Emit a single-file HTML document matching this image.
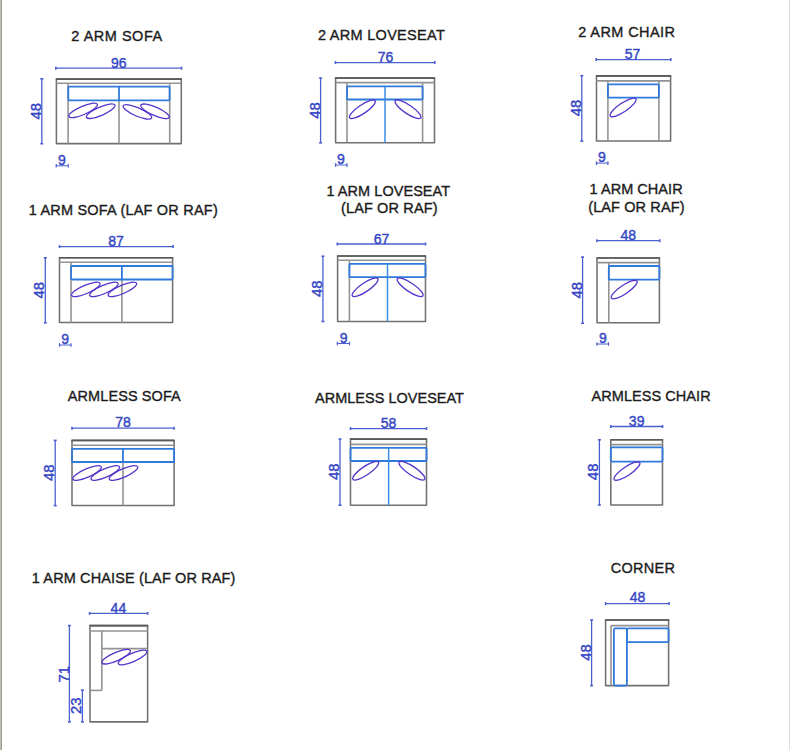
<!DOCTYPE html>
<html><head><meta charset="utf-8"><style>
html,body{margin:0;padding:0;background:#fff;}
body{width:790px;height:750px;overflow:hidden;position:relative;}
svg{position:absolute;left:0;top:0;font-family:"Liberation Sans",sans-serif;}
.lb{position:absolute;left:0;top:0;width:1px;height:750px;background:#c2beb5;}
.lb2{position:absolute;left:1px;top:0;width:1px;height:750px;background:#a09c94;}
.rb{position:absolute;left:789px;top:0;width:1px;height:750px;background:#e0ded9;}
</style></head><body>
<div class="lb"></div><div class="lb2"></div><div class="rb"></div>
<svg width="790" height="750" viewBox="0 0 790 750">
<text transform="translate(117.0 40.5) scale(1.0 1.07)" font-size="14.5" text-anchor="middle" letter-spacing="0.511" fill="#1c1c1c" stroke="#1c1c1c" stroke-width="0.35">2 ARM SOFA</text>
<line x1="55.8" y1="68.2" x2="181.6" y2="68.2" stroke="#4b5fd0" stroke-width="1.3" stroke-linejoin="round"/>
<line x1="55.8" y1="66.7" x2="55.8" y2="69.7" stroke="#4b5fd0" stroke-width="1.6" stroke-linejoin="round"/>
<line x1="181.6" y1="66.7" x2="181.6" y2="69.7" stroke="#4b5fd0" stroke-width="1.6" stroke-linejoin="round"/>
<text transform="translate(118.8 67.8) scale(0.97 1.04)" font-size="14.5" text-anchor="middle" fill="#3446c4" stroke="#3446c4" stroke-width="0.4">96</text>
<line x1="41.8" y1="78.8" x2="41.8" y2="143.7" stroke="#4b5fd0" stroke-width="1.3" stroke-linejoin="round"/>
<line x1="40.3" y1="78.8" x2="43.3" y2="78.8" stroke="#4b5fd0" stroke-width="1.6" stroke-linejoin="round"/>
<line x1="40.3" y1="143.7" x2="43.3" y2="143.7" stroke="#4b5fd0" stroke-width="1.6" stroke-linejoin="round"/>
<text transform="translate(40.7 111.3) rotate(-90) scale(1.03 1.07)" font-size="14.5" text-anchor="middle" fill="#3446c4" stroke="#3446c4" stroke-width="0.4">48</text>
<rect x="56.4" y="79.1" width="124.90" height="64.50" rx="0" fill="none" stroke="#707070" stroke-width="1.55" stroke-linejoin="round"/>
<line x1="56.4" y1="79.1" x2="181.3" y2="79.1" stroke="#5a5a5a" stroke-width="1.6" stroke-linecap="round"/>
<line x1="56.4" y1="83.3" x2="181.3" y2="83.3" stroke="#939393" stroke-width="1.6" stroke-linejoin="round"/>
<line x1="68.1" y1="83.3" x2="68.1" y2="143.6" stroke="#939393" stroke-width="1.6" stroke-linejoin="round"/>
<line x1="169.7" y1="83.3" x2="169.7" y2="143.6" stroke="#939393" stroke-width="1.6" stroke-linejoin="round"/>
<line x1="119" y1="100.4" x2="119" y2="143.6" stroke="#939393" stroke-width="1.6" stroke-linejoin="round"/>
<rect x="68.3" y="86.7" width="101.30" height="13.70" rx="1" fill="none" stroke="#2f7adc" stroke-width="1.8" stroke-linejoin="round"/>
<line x1="119" y1="86.7" x2="119" y2="100.4" stroke="#2f7adc" stroke-width="1.8" stroke-linejoin="round"/>
<ellipse cx="83.1" cy="110.4" rx="15.5" ry="4.2" transform="rotate(-23.5 83.1 110.4)" fill="none" stroke="#5634cc" stroke-width="1.3" stroke-linejoin="round"/>
<ellipse cx="100.7" cy="111.2" rx="15.5" ry="4.2" transform="rotate(-23.5 100.7 111.2)" fill="none" stroke="#5634cc" stroke-width="1.3" stroke-linejoin="round"/>
<ellipse cx="137.4" cy="111.9" rx="15.5" ry="4.2" transform="rotate(23.5 137.4 111.9)" fill="none" stroke="#5634cc" stroke-width="1.3" stroke-linejoin="round"/>
<ellipse cx="155.0" cy="111.3" rx="15.5" ry="4.2" transform="rotate(23.5 155.0 111.3)" fill="none" stroke="#5634cc" stroke-width="1.3" stroke-linejoin="round"/>
<text transform="translate(61.8 165.2) scale(0.97 1.04)" font-size="14.5" text-anchor="middle" fill="#3446c4" stroke="#3446c4" stroke-width="0.4">9</text>
<line x1="56.2" y1="165.8" x2="68.2" y2="165.8" stroke="#4b5fd0" stroke-width="1.0" stroke-linejoin="round"/>
<line x1="56.2" y1="164" x2="56.2" y2="167.5" stroke="#4b5fd0" stroke-width="1.2" stroke-linejoin="round"/>
<line x1="68.2" y1="164" x2="68.2" y2="167.5" stroke="#4b5fd0" stroke-width="1.2" stroke-linejoin="round"/>
<text transform="translate(381.5 40.0) scale(1.0 1.07)" font-size="14.5" text-anchor="middle" letter-spacing="0.300" fill="#1c1c1c" stroke="#1c1c1c" stroke-width="0.35">2 ARM LOVESEAT</text>
<line x1="335.4" y1="62.6" x2="434.8" y2="62.6" stroke="#4b5fd0" stroke-width="1.3" stroke-linejoin="round"/>
<line x1="335.4" y1="61.1" x2="335.4" y2="64.1" stroke="#4b5fd0" stroke-width="1.6" stroke-linejoin="round"/>
<line x1="434.8" y1="61.1" x2="434.8" y2="64.1" stroke="#4b5fd0" stroke-width="1.6" stroke-linejoin="round"/>
<text transform="translate(385.5 62.3) scale(0.97 1.04)" font-size="14.5" text-anchor="middle" fill="#3446c4" stroke="#3446c4" stroke-width="0.4">76</text>
<line x1="320.6" y1="78.1" x2="320.6" y2="142.8" stroke="#4b5fd0" stroke-width="1.3" stroke-linejoin="round"/>
<line x1="319.1" y1="78.1" x2="322.1" y2="78.1" stroke="#4b5fd0" stroke-width="1.6" stroke-linejoin="round"/>
<line x1="319.1" y1="142.8" x2="322.1" y2="142.8" stroke="#4b5fd0" stroke-width="1.6" stroke-linejoin="round"/>
<text transform="translate(319.59999999999997 110.5) rotate(-90) scale(1.03 1.07)" font-size="14.5" text-anchor="middle" fill="#3446c4" stroke="#3446c4" stroke-width="0.4">48</text>
<rect x="335.6" y="78.1" width="98.90" height="64.60" rx="0" fill="none" stroke="#707070" stroke-width="1.55" stroke-linejoin="round"/>
<line x1="335.6" y1="78.1" x2="434.5" y2="78.1" stroke="#5a5a5a" stroke-width="1.6" stroke-linecap="round"/>
<line x1="335.6" y1="82.6" x2="434.5" y2="82.6" stroke="#939393" stroke-width="1.6" stroke-linejoin="round"/>
<line x1="347" y1="82.6" x2="347" y2="142.7" stroke="#939393" stroke-width="1.6" stroke-linejoin="round"/>
<line x1="422.6" y1="82.6" x2="422.6" y2="142.7" stroke="#939393" stroke-width="1.6" stroke-linejoin="round"/>
<rect x="347" y="86.4" width="75.60" height="13.10" rx="1" fill="none" stroke="#2f7adc" stroke-width="1.8" stroke-linejoin="round"/>
<line x1="385" y1="86.4" x2="385" y2="142.7" stroke="#3a8ce6" stroke-width="1.5" stroke-linejoin="round"/>
<ellipse cx="362.4" cy="109.3" rx="15.4" ry="4.3" transform="rotate(-34 362.4 109.3)" fill="none" stroke="#5634cc" stroke-width="1.3" stroke-linejoin="round"/>
<ellipse cx="408" cy="109.3" rx="15.4" ry="4.3" transform="rotate(34 408 109.3)" fill="none" stroke="#5634cc" stroke-width="1.3" stroke-linejoin="round"/>
<text transform="translate(341 163.8) scale(0.97 1.04)" font-size="14.5" text-anchor="middle" fill="#3446c4" stroke="#3446c4" stroke-width="0.4">9</text>
<line x1="335.6" y1="165" x2="347" y2="165" stroke="#4b5fd0" stroke-width="1.0" stroke-linejoin="round"/>
<line x1="335.6" y1="163.2" x2="335.6" y2="166.8" stroke="#4b5fd0" stroke-width="1.3" stroke-linejoin="round"/>
<line x1="347" y1="163.2" x2="347" y2="166.8" stroke="#4b5fd0" stroke-width="1.3" stroke-linejoin="round"/>
<text transform="translate(626.8 37.3) scale(1.0 1.07)" font-size="14.5" text-anchor="middle" letter-spacing="0.410" fill="#1c1c1c" stroke="#1c1c1c" stroke-width="0.35">2 ARM CHAIR</text>
<line x1="596.2" y1="59.6" x2="670.8" y2="59.6" stroke="#4b5fd0" stroke-width="1.3" stroke-linejoin="round"/>
<line x1="596.2" y1="58.1" x2="596.2" y2="61.1" stroke="#4b5fd0" stroke-width="1.6" stroke-linejoin="round"/>
<line x1="670.8" y1="58.1" x2="670.8" y2="61.1" stroke="#4b5fd0" stroke-width="1.6" stroke-linejoin="round"/>
<text transform="translate(632.6 58.9) scale(0.97 1.04)" font-size="14.5" text-anchor="middle" fill="#3446c4" stroke="#3446c4" stroke-width="0.4">57</text>
<line x1="581.8" y1="75.7" x2="581.8" y2="141.1" stroke="#4b5fd0" stroke-width="1.3" stroke-linejoin="round"/>
<line x1="580.3" y1="75.7" x2="583.3" y2="75.7" stroke="#4b5fd0" stroke-width="1.6" stroke-linejoin="round"/>
<line x1="580.3" y1="141.1" x2="583.3" y2="141.1" stroke="#4b5fd0" stroke-width="1.6" stroke-linejoin="round"/>
<text transform="translate(580.8000000000001 108) rotate(-90) scale(1.03 1.07)" font-size="14.5" text-anchor="middle" fill="#3446c4" stroke="#3446c4" stroke-width="0.4">48</text>
<rect x="596.5" y="75.9" width="74.10" height="65.10" rx="0" fill="none" stroke="#707070" stroke-width="1.55" stroke-linejoin="round"/>
<line x1="596.5" y1="75.9" x2="670.6" y2="75.9" stroke="#5a5a5a" stroke-width="1.6" stroke-linecap="round"/>
<line x1="596.5" y1="80.9" x2="670.6" y2="80.9" stroke="#939393" stroke-width="1.6" stroke-linejoin="round"/>
<line x1="607.9" y1="80.9" x2="607.9" y2="141" stroke="#939393" stroke-width="1.6" stroke-linejoin="round"/>
<line x1="658.9" y1="80.9" x2="658.9" y2="141" stroke="#939393" stroke-width="1.6" stroke-linejoin="round"/>
<rect x="607.9" y="84.3" width="51.00" height="13.30" rx="1" fill="none" stroke="#2f7adc" stroke-width="1.8" stroke-linejoin="round"/>
<ellipse cx="623.1" cy="107.4" rx="15.4" ry="4.3" transform="rotate(-34 623.1 107.4)" fill="none" stroke="#5634cc" stroke-width="1.3" stroke-linejoin="round"/>
<text transform="translate(601.9 162.4) scale(0.97 1.04)" font-size="14.5" text-anchor="middle" fill="#3446c4" stroke="#3446c4" stroke-width="0.4">9</text>
<line x1="596.5" y1="163.1" x2="607.9" y2="163.1" stroke="#4b5fd0" stroke-width="1.0" stroke-linejoin="round"/>
<line x1="596.5" y1="161.3" x2="596.5" y2="164.9" stroke="#4b5fd0" stroke-width="1.3" stroke-linejoin="round"/>
<line x1="607.9" y1="161.3" x2="607.9" y2="164.9" stroke="#4b5fd0" stroke-width="1.3" stroke-linejoin="round"/>
<text transform="translate(123.30000000000001 214.5) scale(1.0 1.07)" font-size="14.5" text-anchor="middle" letter-spacing="0.214" fill="#1c1c1c" stroke="#1c1c1c" stroke-width="0.35">1 ARM SOFA (LAF OR RAF)</text>
<line x1="59.5" y1="246.6" x2="173.1" y2="246.6" stroke="#4b5fd0" stroke-width="1.3" stroke-linejoin="round"/>
<line x1="59.5" y1="245.1" x2="59.5" y2="248.1" stroke="#4b5fd0" stroke-width="1.6" stroke-linejoin="round"/>
<line x1="173.1" y1="245.1" x2="173.1" y2="248.1" stroke="#4b5fd0" stroke-width="1.6" stroke-linejoin="round"/>
<text transform="translate(116.1 245.8) scale(0.97 1.04)" font-size="14.5" text-anchor="middle" fill="#3446c4" stroke="#3446c4" stroke-width="0.4">87</text>
<line x1="45.3" y1="257.8" x2="45.3" y2="322.8" stroke="#4b5fd0" stroke-width="1.3" stroke-linejoin="round"/>
<line x1="43.8" y1="257.8" x2="46.8" y2="257.8" stroke="#4b5fd0" stroke-width="1.6" stroke-linejoin="round"/>
<line x1="43.8" y1="322.8" x2="46.8" y2="322.8" stroke="#4b5fd0" stroke-width="1.6" stroke-linejoin="round"/>
<text transform="translate(44.300000000000004 290.3) rotate(-90) scale(1.03 1.07)" font-size="14.5" text-anchor="middle" fill="#3446c4" stroke="#3446c4" stroke-width="0.4">48</text>
<rect x="59.5" y="257.8" width="113.10" height="64.80" rx="0" fill="none" stroke="#707070" stroke-width="1.55" stroke-linejoin="round"/>
<line x1="59.5" y1="257.8" x2="172.6" y2="257.8" stroke="#5a5a5a" stroke-width="1.6" stroke-linecap="round"/>
<line x1="59.5" y1="262.2" x2="172.6" y2="262.2" stroke="#939393" stroke-width="1.6" stroke-linejoin="round"/>
<line x1="71" y1="262.2" x2="71" y2="322.6" stroke="#939393" stroke-width="1.6" stroke-linejoin="round"/>
<line x1="121.9" y1="279.5" x2="121.9" y2="322.6" stroke="#939393" stroke-width="1.6" stroke-linejoin="round"/>
<rect x="71" y="266" width="101.60" height="13.50" rx="1" fill="none" stroke="#2f7adc" stroke-width="1.8" stroke-linejoin="round"/>
<line x1="121.9" y1="266" x2="121.9" y2="279.5" stroke="#2f7adc" stroke-width="1.8" stroke-linejoin="round"/>
<ellipse cx="85.8" cy="289.4" rx="15.5" ry="4.2" transform="rotate(-23.5 85.8 289.4)" fill="none" stroke="#5634cc" stroke-width="1.3" stroke-linejoin="round"/>
<ellipse cx="103.9" cy="289.4" rx="15.5" ry="4.2" transform="rotate(-23.5 103.9 289.4)" fill="none" stroke="#5634cc" stroke-width="1.3" stroke-linejoin="round"/>
<ellipse cx="122.4" cy="289.4" rx="15.5" ry="4.2" transform="rotate(-23.5 122.4 289.4)" fill="none" stroke="#5634cc" stroke-width="1.3" stroke-linejoin="round"/>
<text transform="translate(65.2 344) scale(0.97 1.04)" font-size="14.5" text-anchor="middle" fill="#3446c4" stroke="#3446c4" stroke-width="0.4">9</text>
<line x1="59.5" y1="345" x2="71" y2="345" stroke="#4b5fd0" stroke-width="1.0" stroke-linejoin="round"/>
<line x1="59.5" y1="343.2" x2="59.5" y2="346.8" stroke="#4b5fd0" stroke-width="1.2" stroke-linejoin="round"/>
<line x1="71" y1="343.2" x2="71" y2="346.8" stroke="#4b5fd0" stroke-width="1.2" stroke-linejoin="round"/>
<text transform="translate(388.29999999999995 195.5) scale(1.0 1.07)" font-size="14.5" text-anchor="middle" letter-spacing="0.054" fill="#1c1c1c" stroke="#1c1c1c" stroke-width="0.35">1 ARM LOVESEAT</text>
<text transform="translate(389.29999999999995 213.4) scale(1.0 1.07)" font-size="14.5" text-anchor="middle" letter-spacing="0.145" fill="#1c1c1c" stroke="#1c1c1c" stroke-width="0.35">(LAF OR RAF)</text>
<line x1="337.3" y1="244" x2="425.5" y2="244" stroke="#4b5fd0" stroke-width="1.3" stroke-linejoin="round"/>
<line x1="337.3" y1="242.5" x2="337.3" y2="245.5" stroke="#4b5fd0" stroke-width="1.6" stroke-linejoin="round"/>
<line x1="425.5" y1="242.5" x2="425.5" y2="245.5" stroke="#4b5fd0" stroke-width="1.6" stroke-linejoin="round"/>
<text transform="translate(381.45 243.7) scale(0.97 1.04)" font-size="14.5" text-anchor="middle" fill="#3446c4" stroke="#3446c4" stroke-width="0.4">67</text>
<line x1="322.9" y1="256.2" x2="322.9" y2="321.5" stroke="#4b5fd0" stroke-width="1.3" stroke-linejoin="round"/>
<line x1="321.4" y1="256.2" x2="324.4" y2="256.2" stroke="#4b5fd0" stroke-width="1.6" stroke-linejoin="round"/>
<line x1="321.4" y1="321.5" x2="324.4" y2="321.5" stroke="#4b5fd0" stroke-width="1.6" stroke-linejoin="round"/>
<text transform="translate(321.9 288.75) rotate(-90) scale(1.03 1.07)" font-size="14.5" text-anchor="middle" fill="#3446c4" stroke="#3446c4" stroke-width="0.4">48</text>
<rect x="337.6" y="256.0" width="87.90" height="65.50" rx="0" fill="none" stroke="#707070" stroke-width="1.55" stroke-linejoin="round"/>
<line x1="337.6" y1="256.0" x2="425.5" y2="256.0" stroke="#5a5a5a" stroke-width="1.6" stroke-linecap="round"/>
<line x1="337.6" y1="260.3" x2="425.5" y2="260.3" stroke="#939393" stroke-width="1.6" stroke-linejoin="round"/>
<line x1="349.4" y1="260.3" x2="349.4" y2="321.5" stroke="#939393" stroke-width="1.6" stroke-linejoin="round"/>
<rect x="349.4" y="263.9" width="76.10" height="13.30" rx="1" fill="none" stroke="#2f7adc" stroke-width="1.8" stroke-linejoin="round"/>
<line x1="387.5" y1="263.9" x2="387.5" y2="321.5" stroke="#3a8ce6" stroke-width="1.5" stroke-linejoin="round"/>
<ellipse cx="365.1" cy="287.3" rx="15.4" ry="4.3" transform="rotate(-34 365.1 287.3)" fill="none" stroke="#5634cc" stroke-width="1.3" stroke-linejoin="round"/>
<ellipse cx="410.1" cy="287.3" rx="15.4" ry="4.3" transform="rotate(34 410.1 287.3)" fill="none" stroke="#5634cc" stroke-width="1.3" stroke-linejoin="round"/>
<text transform="translate(343.75 342.5) scale(0.97 1.04)" font-size="14.5" text-anchor="middle" fill="#3446c4" stroke="#3446c4" stroke-width="0.4">9</text>
<line x1="337.3" y1="343.5" x2="349.5" y2="343.5" stroke="#4b5fd0" stroke-width="1.0" stroke-linejoin="round"/>
<line x1="337.3" y1="341.7" x2="337.3" y2="345.3" stroke="#4b5fd0" stroke-width="1.2" stroke-linejoin="round"/>
<line x1="349.5" y1="341.7" x2="349.5" y2="345.3" stroke="#4b5fd0" stroke-width="1.2" stroke-linejoin="round"/>
<text transform="translate(636.0999999999999 194.1) scale(1.0 1.07)" font-size="14.5" text-anchor="middle" letter-spacing="0.050" fill="#1c1c1c" stroke="#1c1c1c" stroke-width="0.35">1 ARM CHAIR</text>
<text transform="translate(636.4000000000001 211.9) scale(1.0 1.07)" font-size="14.5" text-anchor="middle" letter-spacing="0.118" fill="#1c1c1c" stroke="#1c1c1c" stroke-width="0.35">(LAF OR RAF)</text>
<line x1="596.9" y1="240.7" x2="659.7" y2="240.7" stroke="#4b5fd0" stroke-width="1.3" stroke-linejoin="round"/>
<line x1="596.9" y1="239.2" x2="596.9" y2="242.2" stroke="#4b5fd0" stroke-width="1.6" stroke-linejoin="round"/>
<line x1="659.7" y1="239.2" x2="659.7" y2="242.2" stroke="#4b5fd0" stroke-width="1.6" stroke-linejoin="round"/>
<text transform="translate(628.3 240.0) scale(0.97 1.04)" font-size="14.5" text-anchor="middle" fill="#3446c4" stroke="#3446c4" stroke-width="0.4">48</text>
<line x1="582.6" y1="257.1" x2="582.6" y2="323.2" stroke="#4b5fd0" stroke-width="1.3" stroke-linejoin="round"/>
<line x1="581.1" y1="257.1" x2="584.1" y2="257.1" stroke="#4b5fd0" stroke-width="1.6" stroke-linejoin="round"/>
<line x1="581.1" y1="323.2" x2="584.1" y2="323.2" stroke="#4b5fd0" stroke-width="1.6" stroke-linejoin="round"/>
<text transform="translate(581.6 290.25) rotate(-90) scale(1.03 1.07)" font-size="14.5" text-anchor="middle" fill="#3446c4" stroke="#3446c4" stroke-width="0.4">48</text>
<rect x="597" y="258.0" width="62.40" height="64.80" rx="0" fill="none" stroke="#707070" stroke-width="1.55" stroke-linejoin="round"/>
<line x1="597" y1="258.0" x2="659.4" y2="258.0" stroke="#5a5a5a" stroke-width="1.6" stroke-linecap="round"/>
<line x1="597" y1="262.6" x2="659.4" y2="262.6" stroke="#939393" stroke-width="1.6" stroke-linejoin="round"/>
<line x1="608.8" y1="262.6" x2="608.8" y2="322.8" stroke="#939393" stroke-width="1.6" stroke-linejoin="round"/>
<rect x="608.8" y="266" width="50.60" height="13.60" rx="1" fill="none" stroke="#2f7adc" stroke-width="1.8" stroke-linejoin="round"/>
<ellipse cx="624.2" cy="289.6" rx="15.4" ry="4.3" transform="rotate(-34 624.2 289.6)" fill="none" stroke="#5634cc" stroke-width="1.3" stroke-linejoin="round"/>
<text transform="translate(602.95 343) scale(0.97 1.04)" font-size="14.5" text-anchor="middle" fill="#3446c4" stroke="#3446c4" stroke-width="0.4">9</text>
<line x1="596.9" y1="344" x2="608.5" y2="344" stroke="#4b5fd0" stroke-width="1.0" stroke-linejoin="round"/>
<line x1="596.9" y1="342.2" x2="596.9" y2="345.8" stroke="#4b5fd0" stroke-width="1.2" stroke-linejoin="round"/>
<line x1="608.5" y1="342.2" x2="608.5" y2="345.8" stroke="#4b5fd0" stroke-width="1.2" stroke-linejoin="round"/>
<text transform="translate(124.30000000000001 400.7) scale(1.0 1.07)" font-size="14.5" text-anchor="middle" letter-spacing="0.100" fill="#1c1c1c" stroke="#1c1c1c" stroke-width="0.35">ARMLESS SOFA</text>
<line x1="72" y1="428.2" x2="174.1" y2="428.2" stroke="#4b5fd0" stroke-width="1.3" stroke-linejoin="round"/>
<line x1="72" y1="426.7" x2="72" y2="429.7" stroke="#4b5fd0" stroke-width="1.6" stroke-linejoin="round"/>
<line x1="174.1" y1="426.7" x2="174.1" y2="429.7" stroke="#4b5fd0" stroke-width="1.6" stroke-linejoin="round"/>
<text transform="translate(123 427) scale(0.97 1.04)" font-size="14.5" text-anchor="middle" fill="#3446c4" stroke="#3446c4" stroke-width="0.4">78</text>
<line x1="55.2" y1="440.4" x2="55.2" y2="505.6" stroke="#4b5fd0" stroke-width="1.3" stroke-linejoin="round"/>
<line x1="53.7" y1="440.4" x2="56.7" y2="440.4" stroke="#4b5fd0" stroke-width="1.6" stroke-linejoin="round"/>
<line x1="53.7" y1="505.6" x2="56.7" y2="505.6" stroke="#4b5fd0" stroke-width="1.6" stroke-linejoin="round"/>
<text transform="translate(54.2 472.8) rotate(-90) scale(1.03 1.07)" font-size="14.5" text-anchor="middle" fill="#3446c4" stroke="#3446c4" stroke-width="0.4">48</text>
<rect x="72" y="440.4" width="102.10" height="65.20" rx="0" fill="none" stroke="#707070" stroke-width="1.55" stroke-linejoin="round"/>
<line x1="72" y1="440.4" x2="174.1" y2="440.4" stroke="#5a5a5a" stroke-width="1.6" stroke-linecap="round"/>
<line x1="72" y1="445.2" x2="174.1" y2="445.2" stroke="#939393" stroke-width="1.6" stroke-linejoin="round"/>
<line x1="123" y1="462" x2="123" y2="505.6" stroke="#939393" stroke-width="1.6" stroke-linejoin="round"/>
<rect x="72" y="448.9" width="102.10" height="13.10" rx="1" fill="none" stroke="#2f7adc" stroke-width="1.8" stroke-linejoin="round"/>
<line x1="123" y1="448.9" x2="123" y2="462" stroke="#2f7adc" stroke-width="1.8" stroke-linejoin="round"/>
<ellipse cx="87.1" cy="473" rx="15.5" ry="4.2" transform="rotate(-23.5 87.1 473)" fill="none" stroke="#5634cc" stroke-width="1.3" stroke-linejoin="round"/>
<ellipse cx="105.3" cy="473" rx="15.5" ry="4.2" transform="rotate(-23.5 105.3 473)" fill="none" stroke="#5634cc" stroke-width="1.3" stroke-linejoin="round"/>
<ellipse cx="123.5" cy="473" rx="15.5" ry="4.2" transform="rotate(-23.5 123.5 473)" fill="none" stroke="#5634cc" stroke-width="1.3" stroke-linejoin="round"/>
<text transform="translate(389.5 403.2) scale(1.0 1.07)" font-size="14.5" text-anchor="middle" letter-spacing="0.020" fill="#1c1c1c" stroke="#1c1c1c" stroke-width="0.35">ARMLESS LOVESEAT</text>
<line x1="350.5" y1="428.6" x2="426.5" y2="428.6" stroke="#4b5fd0" stroke-width="1.3" stroke-linejoin="round"/>
<line x1="350.5" y1="427.1" x2="350.5" y2="430.1" stroke="#4b5fd0" stroke-width="1.6" stroke-linejoin="round"/>
<line x1="426.5" y1="427.1" x2="426.5" y2="430.1" stroke="#4b5fd0" stroke-width="1.6" stroke-linejoin="round"/>
<text transform="translate(388.5 428.2) scale(0.97 1.04)" font-size="14.5" text-anchor="middle" fill="#3446c4" stroke="#3446c4" stroke-width="0.4">58</text>
<line x1="340" y1="439.1" x2="340" y2="505.2" stroke="#4b5fd0" stroke-width="1.3" stroke-linejoin="round"/>
<line x1="338.5" y1="439.1" x2="341.5" y2="439.1" stroke="#4b5fd0" stroke-width="1.6" stroke-linejoin="round"/>
<line x1="338.5" y1="505.2" x2="341.5" y2="505.2" stroke="#4b5fd0" stroke-width="1.6" stroke-linejoin="round"/>
<text transform="translate(339.0 471.65) rotate(-90) scale(1.03 1.07)" font-size="14.5" text-anchor="middle" fill="#3446c4" stroke="#3446c4" stroke-width="0.4">48</text>
<rect x="350.5" y="439.1" width="76.00" height="66.10" rx="0" fill="none" stroke="#707070" stroke-width="1.55" stroke-linejoin="round"/>
<line x1="350.5" y1="439.1" x2="426.5" y2="439.1" stroke="#5a5a5a" stroke-width="1.6" stroke-linecap="round"/>
<line x1="350.5" y1="444.4" x2="426.5" y2="444.4" stroke="#939393" stroke-width="1.6" stroke-linejoin="round"/>
<rect x="350.5" y="447.8" width="76.00" height="13.20" rx="1" fill="none" stroke="#2f7adc" stroke-width="1.8" stroke-linejoin="round"/>
<line x1="388.6" y1="447.8" x2="388.6" y2="505.2" stroke="#3a8ce6" stroke-width="1.5" stroke-linejoin="round"/>
<ellipse cx="365.7" cy="470.7" rx="15.4" ry="4.3" transform="rotate(-34 365.7 470.7)" fill="none" stroke="#5634cc" stroke-width="1.3" stroke-linejoin="round"/>
<ellipse cx="411.95" cy="470.7" rx="15.4" ry="4.3" transform="rotate(34 411.95 470.7)" fill="none" stroke="#5634cc" stroke-width="1.3" stroke-linejoin="round"/>
<text transform="translate(651.1 400.5) scale(1.0 1.07)" font-size="14.5" text-anchor="middle" letter-spacing="0.067" fill="#1c1c1c" stroke="#1c1c1c" stroke-width="0.35">ARMLESS CHAIR</text>
<line x1="610.8" y1="426.5" x2="662.5" y2="426.5" stroke="#4b5fd0" stroke-width="1.3" stroke-linejoin="round"/>
<line x1="610.8" y1="425.0" x2="610.8" y2="428.0" stroke="#4b5fd0" stroke-width="1.6" stroke-linejoin="round"/>
<line x1="662.5" y1="425.0" x2="662.5" y2="428.0" stroke="#4b5fd0" stroke-width="1.6" stroke-linejoin="round"/>
<text transform="translate(636.65 426) scale(0.97 1.04)" font-size="14.5" text-anchor="middle" fill="#3446c4" stroke="#3446c4" stroke-width="0.4">39</text>
<line x1="599.4" y1="439.8" x2="599.4" y2="505" stroke="#4b5fd0" stroke-width="1.3" stroke-linejoin="round"/>
<line x1="597.9" y1="439.8" x2="600.9" y2="439.8" stroke="#4b5fd0" stroke-width="1.6" stroke-linejoin="round"/>
<line x1="597.9" y1="505" x2="600.9" y2="505" stroke="#4b5fd0" stroke-width="1.6" stroke-linejoin="round"/>
<text transform="translate(598.4000000000001 471.85) rotate(-90) scale(1.03 1.07)" font-size="14.5" text-anchor="middle" fill="#3446c4" stroke="#3446c4" stroke-width="0.4">48</text>
<rect x="610.8" y="439.8" width="51.70" height="65.10" rx="0" fill="none" stroke="#707070" stroke-width="1.55" stroke-linejoin="round"/>
<line x1="610.8" y1="439.8" x2="662.5" y2="439.8" stroke="#5a5a5a" stroke-width="1.6" stroke-linecap="round"/>
<line x1="610.8" y1="444.6" x2="662.5" y2="444.6" stroke="#939393" stroke-width="1.6" stroke-linejoin="round"/>
<rect x="610.8" y="447.4" width="51.70" height="14.20" rx="1" fill="none" stroke="#2f7adc" stroke-width="1.8" stroke-linejoin="round"/>
<ellipse cx="626.95" cy="471.1" rx="15.4" ry="4.3" transform="rotate(-34 626.95 471.1)" fill="none" stroke="#5634cc" stroke-width="1.3" stroke-linejoin="round"/>
<text transform="translate(133.65 583.3) scale(1.0 1.07)" font-size="14.5" text-anchor="middle" letter-spacing="0.133" fill="#1c1c1c" stroke="#1c1c1c" stroke-width="0.35">1 ARM CHAISE (LAF OR RAF)</text>
<line x1="89.6" y1="613.4" x2="147.6" y2="613.4" stroke="#4b5fd0" stroke-width="1.3" stroke-linejoin="round"/>
<line x1="89.6" y1="611.9" x2="89.6" y2="614.9" stroke="#4b5fd0" stroke-width="1.6" stroke-linejoin="round"/>
<line x1="147.6" y1="611.9" x2="147.6" y2="614.9" stroke="#4b5fd0" stroke-width="1.6" stroke-linejoin="round"/>
<text transform="translate(118.4 613) scale(0.97 1.04)" font-size="14.5" text-anchor="middle" fill="#3446c4" stroke="#3446c4" stroke-width="0.4">44</text>
<line x1="69.4" y1="625.6" x2="69.4" y2="721.9" stroke="#4b5fd0" stroke-width="1.3" stroke-linejoin="round"/>
<line x1="67.9" y1="625.6" x2="70.9" y2="625.6" stroke="#4b5fd0" stroke-width="1.6" stroke-linejoin="round"/>
<line x1="67.9" y1="721.9" x2="70.9" y2="721.9" stroke="#4b5fd0" stroke-width="1.6" stroke-linejoin="round"/>
<text transform="translate(69.2 674.3) rotate(-90) scale(1.03 1.07)" font-size="14.5" text-anchor="middle" fill="#3446c4" stroke="#3446c4" stroke-width="0.4">71</text>
<line x1="82.4" y1="690.2" x2="82.4" y2="721.9" stroke="#4b5fd0" stroke-width="1.3" stroke-linejoin="round"/>
<line x1="80.9" y1="690.2" x2="83.9" y2="690.2" stroke="#4b5fd0" stroke-width="1.6" stroke-linejoin="round"/>
<line x1="80.9" y1="721.9" x2="83.9" y2="721.9" stroke="#4b5fd0" stroke-width="1.6" stroke-linejoin="round"/>
<text transform="translate(81.4 705.7) rotate(-90) scale(1.03 1.07)" font-size="14.5" text-anchor="middle" fill="#3446c4" stroke="#3446c4" stroke-width="0.4">23</text>
<rect x="90" y="625.6" width="57.60" height="96.30" rx="0" fill="none" stroke="#707070" stroke-width="1.55" stroke-linejoin="round"/>
<line x1="90" y1="625.6" x2="147.6" y2="625.6" stroke="#5a5a5a" stroke-width="1.6" stroke-linecap="round"/>
<line x1="90" y1="631" x2="147.6" y2="631" stroke="#939393" stroke-width="1.6" stroke-linejoin="round"/>
<line x1="101.8" y1="631" x2="101.8" y2="690.4" stroke="#939393" stroke-width="1.6" stroke-linejoin="round"/>
<line x1="90" y1="690.4" x2="101.8" y2="690.4" stroke="#939393" stroke-width="1.6" stroke-linejoin="round"/>
<line x1="101.8" y1="648.6" x2="147.6" y2="648.6" stroke="#939393" stroke-width="1.6" stroke-linejoin="round"/>
<ellipse cx="116.15" cy="656.7" rx="15.5" ry="4.2" transform="rotate(-23.5 116.15 656.7)" fill="none" stroke="#5634cc" stroke-width="1.3" stroke-linejoin="round"/>
<ellipse cx="132.6" cy="657.5" rx="15.5" ry="4.2" transform="rotate(-23.5 132.6 657.5)" fill="none" stroke="#5634cc" stroke-width="1.3" stroke-linejoin="round"/>
<text transform="translate(643 572.7) scale(1.0 1.07)" font-size="14.5" text-anchor="middle" letter-spacing="0.300" fill="#1c1c1c" stroke="#1c1c1c" stroke-width="0.35">CORNER</text>
<line x1="605.6" y1="603.6" x2="669" y2="603.6" stroke="#4b5fd0" stroke-width="1.3" stroke-linejoin="round"/>
<line x1="605.6" y1="602.1" x2="605.6" y2="605.1" stroke="#4b5fd0" stroke-width="1.6" stroke-linejoin="round"/>
<line x1="669" y1="602.1" x2="669" y2="605.1" stroke="#4b5fd0" stroke-width="1.6" stroke-linejoin="round"/>
<text transform="translate(637.6 602.4) scale(0.97 1.04)" font-size="14.5" text-anchor="middle" fill="#3446c4" stroke="#3446c4" stroke-width="0.4">48</text>
<line x1="591.6" y1="620" x2="591.6" y2="685.6" stroke="#4b5fd0" stroke-width="1.3" stroke-linejoin="round"/>
<line x1="590.1" y1="620" x2="593.1" y2="620" stroke="#4b5fd0" stroke-width="1.6" stroke-linejoin="round"/>
<line x1="590.1" y1="685.6" x2="593.1" y2="685.6" stroke="#4b5fd0" stroke-width="1.6" stroke-linejoin="round"/>
<text transform="translate(590.6 652.5) rotate(-90) scale(1.03 1.07)" font-size="14.5" text-anchor="middle" fill="#3446c4" stroke="#3446c4" stroke-width="0.4">48</text>
<rect x="605.6" y="620" width="63.00" height="65.60" rx="0" fill="none" stroke="#707070" stroke-width="1.55" stroke-linejoin="round"/>
<line x1="605.6" y1="620" x2="668.6" y2="620" stroke="#5a5a5a" stroke-width="1.6" stroke-linecap="round"/>
<line x1="611" y1="625.6" x2="668.6" y2="625.6" stroke="#939393" stroke-width="1.6" stroke-linejoin="round"/>
<line x1="611" y1="625.6" x2="611" y2="685.6" stroke="#939393" stroke-width="1.6" stroke-linejoin="round"/>
<rect x="613.9" y="628.4" width="13.00" height="57.20" rx="1.5" fill="none" stroke="#2f7adc" stroke-width="1.8" stroke-linejoin="round"/>
<rect x="626.9" y="628.4" width="41.70" height="13.80" rx="1.5" fill="none" stroke="#2f7adc" stroke-width="1.8" stroke-linejoin="round"/>
</svg>
</body></html>
